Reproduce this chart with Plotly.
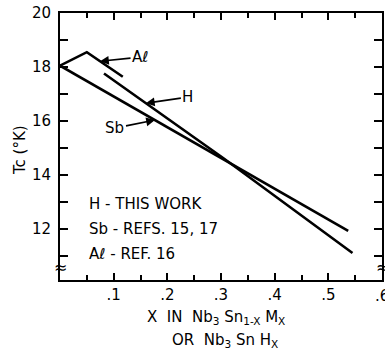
import numpy as np
import plotly.graph_objects as go

# ---- data ----
sb_x = [0.0, 0.537]
sb_y = [18.05, 11.93]

h_x = [0.082, 0.304, 0.545]
h_y = [17.76, 14.63, 11.11]

al_x = [0.0, 0.05, 0.117]
al_y = [18.05, 18.55, 17.64]

x_tickvals = [0.1, 0.2, 0.3, 0.4, 0.5, 0.6]
x_ticktext = [".1", ".2", ".3", ".4", ".5", ".6"]
y_tickvals = [11, 12, 13, 14, 15, 16, 17, 18, 19, 20]
y_ticktext = ["", "12", "", "14", "", "16", "", "18", "", "20"]

legend_lines = ["H - THIS WORK", "Sb - REFS. 15, 17", "A\u2113 - REF. 16"]

FONT = "DejaVu Sans"

fig = go.Figure()
for xs, ys in [(sb_x, sb_y), (h_x, h_y), (al_x, al_y)]:
    fig.add_trace(go.Scatter(x=xs, y=ys, mode="lines",
                             line=dict(color="black", width=2.6),
                             showlegend=False, hoverinfo="skip"))

# arrow labels pointing onto the curves
def on(xs, ys, x):
    return float(np.interp(x, xs, ys))

labels = [
    ("A\u2113", 0.0746, on(al_x, al_y, 0.0746), 40, -4),
    ("H", 0.160, on(h_x, h_y, 0.160), 42, -6),
    ("Sb", 0.177, on(sb_x, sb_y, 0.177), -40, 8),
]
for txt, x, y, ax, ay in labels:
    fig.add_annotation(x=x, y=y, text=txt, showarrow=True, ax=ax, ay=ay,
                       arrowhead=2, arrowsize=1.1, arrowwidth=1.6,
                       arrowcolor="black", standoff=0,
                       font=dict(family=FONT, size=15, color="black"))

for i, t in enumerate(legend_lines):
    fig.add_annotation(x=0.05, y=12.93 - i * 0.93, text=t, showarrow=False,
                       xanchor="left", yanchor="middle",
                       font=dict(family=FONT, size=15, color="black"))

# last x tick label (sits on the right edge, partly cut as in the original)
fig.add_annotation(x=x_tickvals[-1], y=-0.06, yref="paper", text=x_ticktext[-1],
                   showarrow=False, xanchor="center", yanchor="middle",
                   font=dict(family=FONT, size=15, color="black"))

# axis break marks
for xp in [0, 1]:
    fig.add_annotation(x=xp, xref="paper", y=10.59, text="\u2248",
                       showarrow=False, xanchor="center", yanchor="middle",
                       font=dict(family=FONT, size=16, color="black"))

# axis titles
fig.add_annotation(x=0.484, xref="paper", y=-0.141, yref="paper",
                   text="X\u00a0\u00a0IN\u00a0\u00a0Nb<sub>3</sub>\u00a0Sn<sub>1-X</sub>\u00a0M<sub>X</sub>",
                   showarrow=False, xanchor="center", yanchor="middle",
                   font=dict(family=FONT, size=15, color="black"))
fig.add_annotation(x=0.512, xref="paper", y=-0.228, yref="paper",
                   text="OR\u00a0\u00a0Nb<sub>3</sub>\u00a0Sn\u00a0H<sub>X</sub>",
                   showarrow=False, xanchor="center", yanchor="middle",
                   font=dict(family=FONT, size=15, color="black"))
fig.add_annotation(x=-0.124, xref="paper", y=0.487, yref="paper",
                   text="Tc (\u00b0K)", textangle=-90, showarrow=False,
                   xanchor="center", yanchor="middle",
                   font=dict(family=FONT, size=15, color="black"))

fig.update_xaxes(range=[0, 0.6], tickvals=x_tickvals, ticktext=x_ticktext,
                 ticks="inside", ticklen=7, tickwidth=2, tickcolor="black",
                 minor=dict(dtick=0.05, tick0=0, ticks="inside", ticklen=5,
                            tickwidth=2, tickcolor="black"),
                 showline=True, linewidth=2, linecolor="black", mirror="ticks",
                 showgrid=False, zeroline=False, automargin=False,
                 tickfont=dict(family=FONT, size=15, color="black"))
fig.update_yaxes(range=[10.11, 20], tickvals=y_tickvals, ticktext=y_ticktext,
                 ticks="inside", ticklen=8, tickwidth=2, tickcolor="black",
                 showline=True, linewidth=2, linecolor="black", mirror="ticks",
                 showgrid=False, zeroline=False, ticklabelstandoff=4,
                 automargin=False,
                 tickfont=dict(family=FONT, size=15, color="black"))

fig.update_layout(width=385, height=351,
                  margin=dict(l=60, r=3, t=13, b=71),
                  plot_bgcolor="white", paper_bgcolor="white",
                  showlegend=False)

fig.write_html("out.html", config={"displayModeBar": False},
               post_script="document.body.style.margin='0';"
                           "document.body.style.overflow='hidden';")
